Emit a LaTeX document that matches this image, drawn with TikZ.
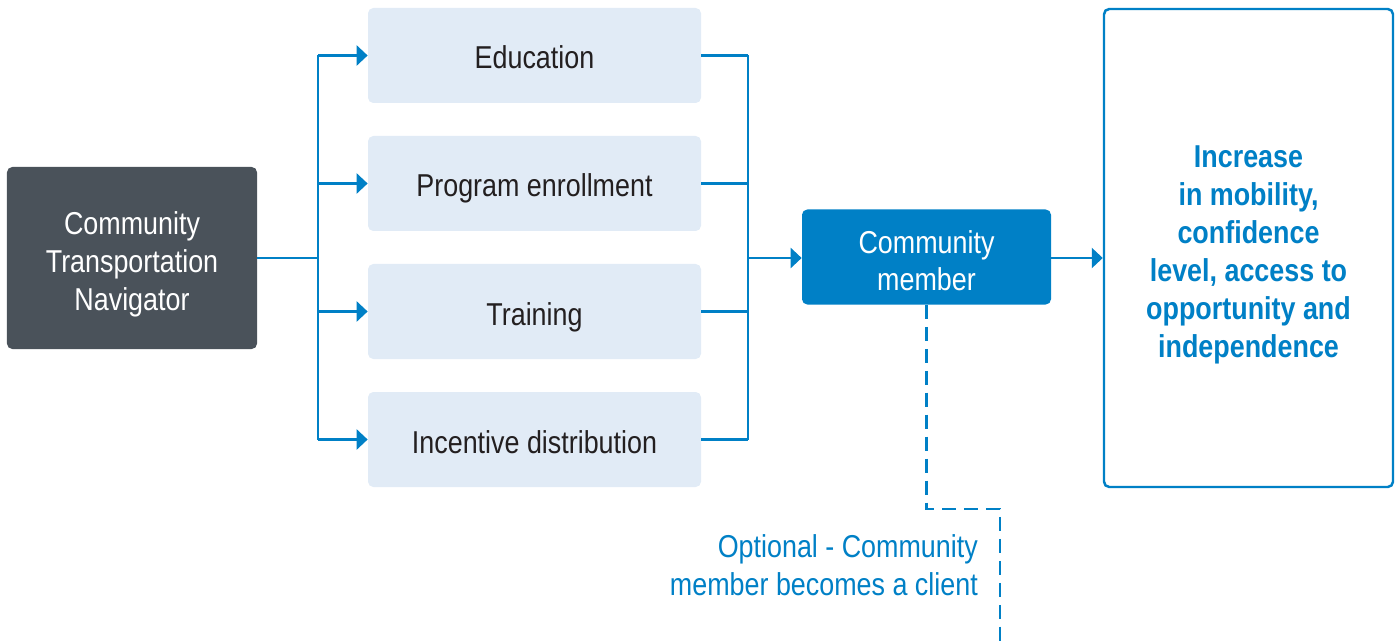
\documentclass[tikz,border=0pt]{standalone}
\usepackage{fontspec}
\setmainfont{Liberation Sans}[FakeStretch=0.85]
\usepackage{tikz}
\usetikzlibrary{arrows.meta, positioning, calc}
\definecolor{myblue}{HTML}{0080C6}
\definecolor{mydark}{HTML}{4A525A}
\definecolor{mylight}{HTML}{E1EBF6}
\definecolor{mytext}{HTML}{231F20}
\newcommand{\bigtext}{\fontsize{18}{21.6}\selectfont}
\tikzset{
	navnode/.style={
			rectangle,
			rounded corners=3pt,
			fill=mydark,
			text=white,
			minimum width=5cm,
			minimum height=3.64cm,
			align=center,
			text height=2.08cm,
			text depth=0pt,
			inner sep=0pt
		},
	stepnode/.style={
			rectangle,
			rounded corners=3pt,
			fill=mylight,
			text=mytext,
			minimum width=6.66cm,
			minimum height=1.9cm,
			text height=0.54cm,
			text depth=0pt,
			inner sep=0pt
		},
	membernode/.style={
			stepnode,
			fill=myblue,
			text=white,
			minimum width=4.98cm,
			text height=1.36cm,
			align=center
		},
	goalnode/.style={
			rectangle,
			rounded corners=3pt,
			draw=myblue,
			line width=1.4pt,
			fill=white,
			text=myblue,
			font=\bigtext\bfseries,
			minimum width=5.78cm,
			minimum height=9.56cm,
			align=center,
			text height=4.38cm,
			text depth=0pt,
			inner sep=0pt
		},
	link/.style={
			draw=myblue,
			line width=1.4pt
		},
	linkarrow/.style={
			link,
			-{Triangle[length=2.2mm,width=4mm]}
		}
}
\tikzset{
	bluetext/.style={text=myblue, align=right}
}

\begin{document}
\begin{tikzpicture}[font=\bigtext]
\useasboundingbox (0,0) rectangle (28,-12.82);

\node[navnode] (n0) at (2.64,-5.16) {Community\\Transportation\\Navigator};

\node[stepnode] (s1) at (10.69,-1.11) {Education};
\node[stepnode] (s2) at (10.69,-3.67) {Program enrollment};
\node[stepnode] (s3) at (10.69,-6.23) {Training};
\node[stepnode] (s4) at (10.69,-8.79) {Incentive distribution};

\node[membernode] (m1) at (18.53,-5.14) {Community\\member};

\node[goalnode] (g1) at (24.97,-4.96)
  {Increase\\in mobility,\\confidence\\level, access to\\opportunity and\\independence};

% branch lines
\coordinate (bl) at (6.36,-5.16);
\coordinate (br) at (14.96,-5.16);

\draw[link] (n0.east) -- (bl);
\draw[link] (bl |- s1) -- (bl |- s4);
\foreach \i in {1,...,4}
  \draw[linkarrow] (bl |- s\i) -- (s\i.west);

\foreach \i in {1,...,4}
  \draw[link] (s\i.east) -- (br |- s\i);
\draw[link] (br |- s1) -- (br |- s4);
\draw[linkarrow] (br) -- (m1.west |- br);

\draw[linkarrow] (m1.east |- br) -- (g1.west |- br);

% optional path
\coordinate (d1) at (20.0,-10.18);
\coordinate (d2) at (20.0,-12.82);
\draw[link, dash pattern=on 8pt off 4.5pt] (m1.south) |- (d1) -- (d2);

\node[bluetext, anchor=east] (t1) at (19.68,-11.3)
  {Optional - Community\\member becomes a client};
\end{tikzpicture}
\end{document}
